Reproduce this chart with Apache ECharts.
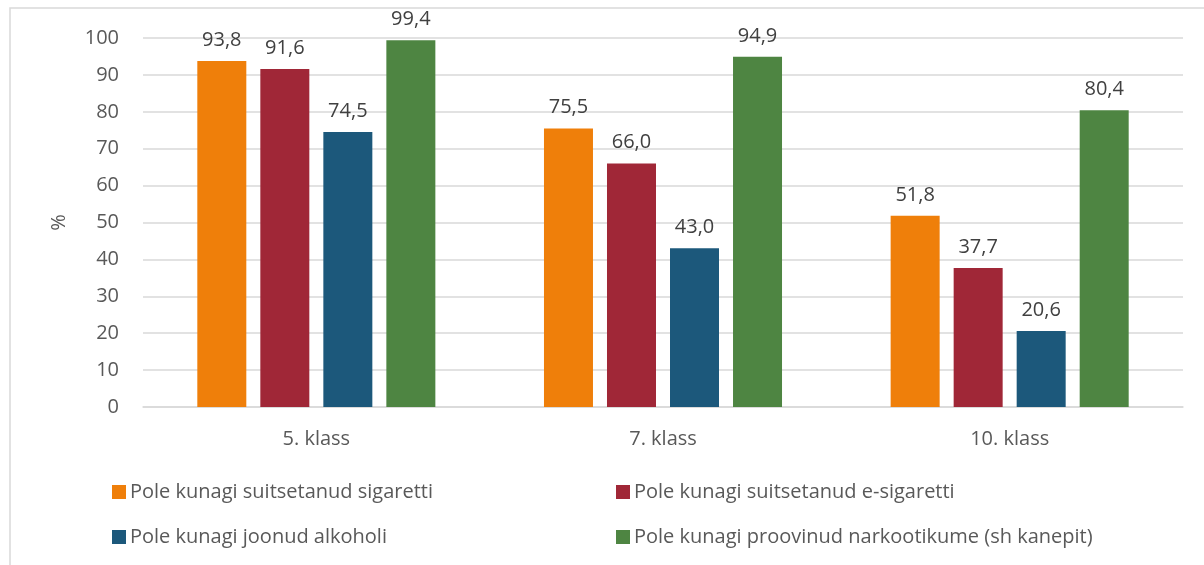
<!DOCTYPE html>
<html>
<head>
<meta charset="utf-8">
<script src="https://cdn.jsdelivr.net/npm/echarts@6/dist/echarts.min.js"></script>
<style>html,body{margin:0;padding:0;background:#fff}#c{width:1204px;height:565px}</style>
</head>
<body>
<div id="c"></div>
<script>
const categories = ['5. klass', '7. klass', '10. klass'];
const seriesNames = [
  'Pole kunagi suitsetanud sigaretti',
  'Pole kunagi suitsetanud e-sigaretti',
  'Pole kunagi joonud alkoholi',
  'Pole kunagi proovinud narkootikume (sh kanepit)'
];
const cigarettes = [93.8, 75.5, 51.8];
const eCigarettes = [91.6, 66.0, 37.7];
const alcohol = [74.5, 43.0, 20.6];
const drugs = [99.4, 94.9, 80.4];
const yTicks = [0, 10, 20, 30, 40, 50, 60, 70, 80, 90, 100];

const colors = ['#ef7f0a', '#a02737', '#1c587b', '#4e8542'];
const FONT = 'Open Sans';
const values = [cigarettes, eCigarettes, alcohol, drugs];

const chart = echarts.init(document.getElementById('c'));
const legendPos = [[112, 482], [616, 482], [112, 527], [616, 527]];
chart.setOption({
  animation: false,
  color: colors,
  graphic: [{
    type: 'rect', shape: {x: 10, y: 8, width: 1220, height: 600},
    style: {fill: 'none', stroke: '#d9d9d9', lineWidth: 1.5}, silent: true
  }],
  grid: {left: 143, right: 21, top: 38, bottom: 158},
  legend: seriesNames.map((n, i) => ({
    data: [n], left: legendPos[i][0], top: legendPos[i][1],
    icon: 'rect', itemWidth: 14, itemHeight: 14, itemGap: 4,
    padding: 0,
    textStyle: {fontFamily: FONT, fontSize: 20, color: '#595959', padding: [0, 0, 0, -1]}
  })),
  xAxis: {
    type: 'category', data: categories,
    axisLine: {lineStyle: {color: '#d9d9d9', width: 1.5}},
    axisTick: {show: false},
    axisLabel: {fontFamily: FONT, fontSize: 20, color: '#595959', margin: 22}
  },
  yAxis: {
    type: 'value', min: 0, max: 100, interval: 10,
    name: '%', nameLocation: 'middle', nameGap: 74, nameRotate: 90,
    nameTextStyle: {fontFamily: FONT, fontSize: 20, color: '#595959'},
    axisLine: {show: false}, axisTick: {show: false},
    axisLabel: {fontFamily: FONT, fontSize: 20, color: '#595959', margin: 24,
      formatter: v => yTicks.includes(v) ? String(v) : ''},
    splitLine: {lineStyle: {color: '#d9d9d9', width: 1.5}}
  },
  series: seriesNames.map((n, i) => ({
    name: n, type: 'bar', data: values[i],
    barWidth: 49, barGap: '28.6%',
    itemStyle: {color: colors[i]},
    label: {show: true, position: 'top', distance: 11,
      fontFamily: FONT, fontSize: 20, color: '#404040',
      formatter: p => p.value.toFixed(1).replace('.', ',')}
  }))
});
</script>
</body>
</html>
